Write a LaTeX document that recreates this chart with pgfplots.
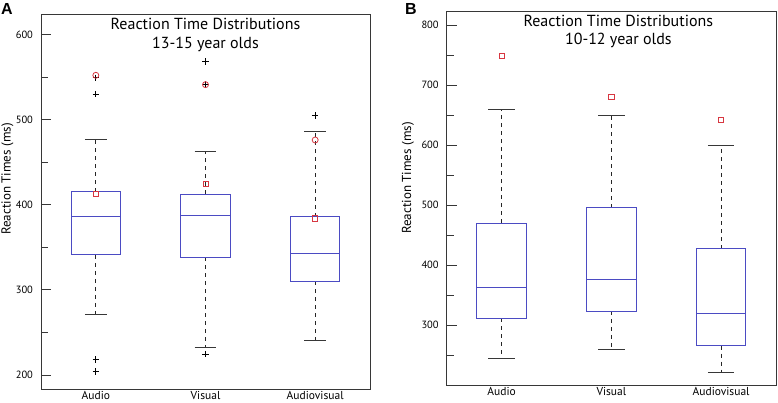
\documentclass[border=0pt]{standalone}
\usepackage{fontspec}
\setmainfont{PT Sans}
\newfontfamily\panelfont{Liberation Sans}
\usepackage{pgfplots}
\pgfplotsset{compat=1.18}
\definecolor{boxblue}{RGB}{75,75,195}
\definecolor{mred}{RGB}{215,55,65}
\definecolor{framegray}{RGB}{55,55,55}
\pgfplotsset{
  rtstyle/.style={
    scale only axis, xmin=0.5, xmax=3.5, clip=false,
    axis line style={framegray, line width=0.9pt},
    xtick={1,2,3}, xticklabels={Audio,Visual,Audiovisual},
    xtick style={draw=none},
    x tick label style={font=\fontsize{11.5}{13}\selectfont, yshift=1.5pt},
    ytick pos=left, tick align=inside,
    y tick label style={font=\fontsize{10.5}{12}\selectfont, xshift=-4.5pt},
    /pgf/number format/assume math mode=true,
    major tick length=10pt, minor tick length=7pt,
    y tick style={framegray, line width=0.9pt},
  },
  boxl/.style={boxblue, line width=0.9pt, mark=none},
  whisk/.style={black!85, dash pattern=on 4pt off 4pt, line width=0.8pt, mark=none},
  capl/.style={framegray, line width=1pt, mark=none},
  plusm/.style={only marks, mark=+, mark size=3.2pt, mark options={black, line width=0.7pt}},
  circm/.style={only marks, mark=o, mark size=3pt, mark options={mred, line width=0.8pt}},
  sqm/.style={only marks, mark=square, mark size=2.6pt, mark options={mred, line width=0.8pt}},
}
\begin{document}
\begin{tikzpicture}
\path[use as bounding box] (0,0) rectangle (778pt,402pt);
% ---------------- Panel A ----------------
\begin{axis}[rtstyle, at={(41pt,13pt)}, anchor=south west,
  width=329pt, height=375pt, ymin=183.5, ymax=624,
  ytick={200,300,400,500,600}, minor ytick={250,350,450,550}]
% whiskers
\addplot[whisk] coordinates {(1,415) (1,476)};
\addplot[whisk] coordinates {(1,341) (1,271.4)};
\addplot[whisk] coordinates {(2,412.5) (2,462)};
\addplot[whisk] coordinates {(2,338.4) (2,232)};
\addplot[whisk] coordinates {(3,386) (3,486.5)};
\addplot[whisk] coordinates {(3,309.8) (3,240)};
% caps
\addplot[capl] coordinates {(0.9,476) (1.1,476)};
\addplot[capl] coordinates {(0.9,271.4) (1.1,271.4)};
\addplot[capl] coordinates {(1.9,462) (2.1,462)};
\addplot[capl] coordinates {(1.9,232) (2.1,232)};
\addplot[capl] coordinates {(2.9,486.5) (3.1,486.5)};
\addplot[capl] coordinates {(2.9,240) (3.1,240)};
% boxes
\addplot[boxl, fill=white] coordinates {(0.775,341) (1.225,341) (1.225,415) (0.775,415)} -- cycle;
\addplot[boxl] coordinates {(0.775,386.6) (1.225,386.6)};
\addplot[boxl, fill=white] coordinates {(1.775,338.4) (2.225,338.4) (2.225,412.5) (1.775,412.5)} -- cycle;
\addplot[boxl] coordinates {(1.775,387.3) (2.225,387.3)};
\addplot[boxl, fill=white] coordinates {(2.775,309.8) (3.225,309.8) (3.225,386) (2.775,386)} -- cycle;
\addplot[boxl] coordinates {(2.775,343) (3.225,343)};
% markers
\addplot[plusm] coordinates {(1,549) (1,530) (1,218) (1,204) (2,568) (2,541) (2,224.4) (3,504.8)};
\addplot[circm] coordinates {(1,552) (2,541) (3,476)};
\addplot[sqm] coordinates {(1,412.5) (2,424) (3,384)};
\node[anchor=north, align=center, inner sep=0pt, font=\fontsize{16}{18.5}\selectfont] at (rel axis cs:0.5,1) [yshift=-4pt] {Reaction Time Distributions\\13-15 year olds};
\end{axis}
% ---------------- Panel B ----------------
\begin{axis}[rtstyle, at={(446.7pt,16.3pt)}, anchor=south west,
  width=329.3pt, height=374pt, ymin=199.3, ymax=822.5,
  ytick={300,400,500,600,700,800}, minor ytick={250,350,450,550,650,750}]
\addplot[whisk] coordinates {(1,470) (1,659.4)};
\addplot[whisk] coordinates {(1,311.7) (1,244.3)};
\addplot[whisk] coordinates {(2,495.5) (2,649.3)};
\addplot[whisk] coordinates {(2,323.8) (2,260)};
\addplot[whisk] coordinates {(3,427.7) (3,600)};
\addplot[whisk] coordinates {(3,266) (3,220.5)};
\addplot[capl] coordinates {(0.88,659.4) (1.12,659.4)};
\addplot[capl] coordinates {(0.88,244.3) (1.12,244.3)};
\addplot[capl] coordinates {(1.88,649.3) (2.12,649.3)};
\addplot[capl] coordinates {(1.88,260) (2.12,260)};
\addplot[capl] coordinates {(2.88,600) (3.12,600)};
\addplot[capl] coordinates {(2.88,220.5) (3.12,220.5)};
\addplot[boxl, fill=white] coordinates {(0.775,311.7) (1.225,311.7) (1.225,470) (0.775,470)} -- cycle;
\addplot[boxl] coordinates {(0.775,362.7) (1.225,362.7)};
\addplot[boxl, fill=white] coordinates {(1.775,323.8) (2.225,323.8) (2.225,495.5) (1.775,495.5)} -- cycle;
\addplot[boxl] coordinates {(1.775,376) (2.225,376)};
\addplot[boxl, fill=white] coordinates {(2.775,266) (3.225,266) (3.225,427.7) (2.775,427.7)} -- cycle;
\addplot[boxl] coordinates {(2.775,320) (3.225,320)};
\addplot[sqm] coordinates {(1,748.8) (2,680) (3,642.7)};
\node[anchor=north, align=center, inner sep=0pt, font=\fontsize{16}{18.5}\selectfont] at (rel axis cs:0.5,1) [xshift=7pt, yshift=-3pt] {Reaction Time Distributions\\10-12 year olds};
\end{axis}
% labels
\node[rotate=90, anchor=base, inner sep=0pt, font=\fontsize{13}{15}\selectfont] at (10.5pt,223pt) {Reaction Times (ms)};
\node[rotate=90, anchor=base, inner sep=0pt, font=\fontsize{13}{15}\selectfont] at (411pt,224pt) {Reaction Times (ms)};
\node[anchor=base west, inner sep=0pt, font=\panelfont\bfseries\fontsize{16}{16}\selectfont] at (1pt,387pt) {A};
\node[anchor=base west, inner sep=0pt, font=\panelfont\bfseries\fontsize{16}{16}\selectfont] at (405pt,387pt) {B};
\end{tikzpicture}
\end{document}
